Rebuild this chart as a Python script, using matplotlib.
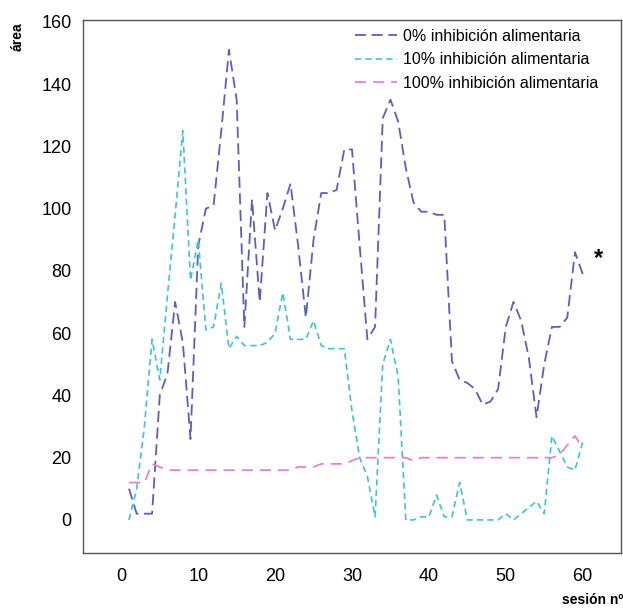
import matplotlib
matplotlib.use("Agg")
import matplotlib.pyplot as plt

# sesiones 1..60
sesion = list(range(1, 61))

inhib_0 = [10, 2, 2, 2, 40, 47, 70, 57, 26, 88,
           100, 101, 125, 151, 135, 62, 103, 70, 105, 93,
           100, 108, 88, 65, 90, 105, 105, 106, 119, 119,
           88, 58, 62, 129, 135, 128, 113, 102, 99, 99,
           98, 98, 51, 45, 44, 42, 37, 38, 42, 62,
           70, 64, 52, 33, 50, 62, 62, 65, 86, 79]

inhib_10 = [0, 10, 30, 58, 45, 72, 98, 125, 77, 90,
            61, 62, 76, 55, 59, 56, 56, 56, 57, 60,
            73, 58, 58, 58, 64, 56, 55, 55, 55, 35,
            20, 14, 1, 50, 58, 46, 0, 0, 1, 1,
            8, 1, 1, 12, 0, 0, 0, 0, 0, 2,
            0, 2, 4, 6, 2, 27, 22, 17, 16, 25]

inhib_100 = [12, 12, 12, 18, 17, 16, 16, 16, 16, 16,
             16, 16, 16, 16, 16, 16, 16, 16, 16, 16,
             16, 16, 17, 17, 17, 18, 18, 18, 18, 19,
             20, 20, 20, 20, 20, 20, 20, 19, 20, 20,
             20, 20, 20, 20, 20, 20, 20, 20, 20, 20,
             20, 20, 20, 20, 20, 20, 21, 24, 27, 23]

labels = ["0% inhibición alimentaria",
          "10% inhibición alimentaria",
          "100% inhibición alimentaria"]

plt.rcParams['font.family'] = ['Liberation Sans', 'DejaVu Sans']
plt.rcParams['lines.scale_dashes'] = False

fig = plt.figure(figsize=(6.23, 6.13), dpi=100)
ax = fig.add_axes([0.133, 0.098, 0.864, 0.869])

ax.plot(sesion, inhib_0, color='#5a5fc2', lw=1.3, dashes=(8, 4), label=labels[0])
ax.plot(sesion, inhib_10, color='#3ec3dc', lw=1.2, dashes=(4.5, 3), label=labels[1])
ax.plot(sesion, inhib_100, color='#e07ad6', lw=1.2, dashes=(8, 5), label=labels[2])

ax.text(62, 84, "*", fontsize=17, fontweight='bold', ha='center', va='center')

ax.set_xlim(-5, 65)
ax.set_ylim(-10.6, 160.5)
ax.set_xticks(range(0, 61, 10))
ax.set_yticks(range(0, 161, 20))
ax.tick_params(length=0, labelsize=13)
ax.tick_params(axis='y', pad=8)
ax.tick_params(axis='x', pad=11)
for s in ax.spines.values():
    s.set_color('#555555')
    s.set_linewidth(1.0)

leg = ax.legend(loc='upper left', bbox_to_anchor=(0.49, 1.0), frameon=False,
                fontsize=11.5, handlelength=2.6, handletextpad=0.4,
                labelspacing=0.52, borderaxespad=0.15)

fig.text(18 / 623, 1 - 37 / 613, "área", rotation=90, fontsize=10,
         fontweight='bold', ha='center', va='center')
fig.text(1.0, 1 - 600 / 613, "sesión nº", fontsize=10,
         fontweight='bold', ha='right', va='center')

fig.savefig("out.png", dpi=100)
